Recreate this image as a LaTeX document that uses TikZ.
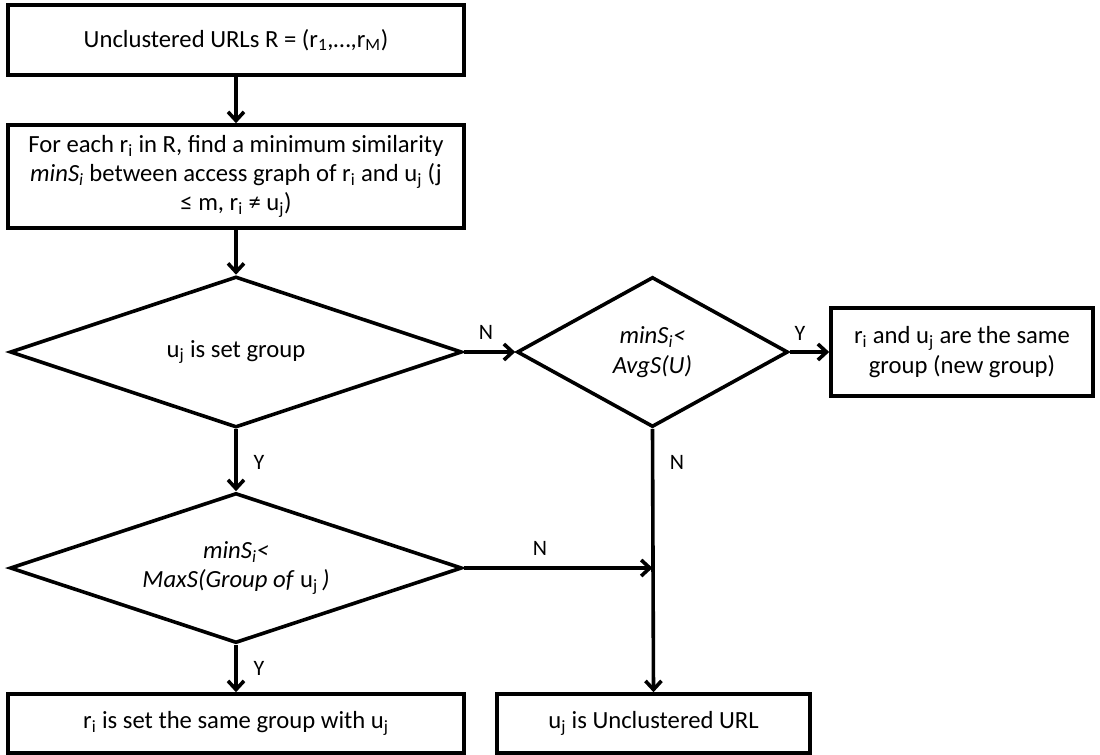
\documentclass[tikz,border=0pt]{standalone}
\usepackage{fontspec}
\setmainfont{Carlito}
\usetikzlibrary{shapes.geometric,arrows.meta}
\newcommand{\sbi}{\textsubscript{i}}
\newcommand{\sbj}{\textsubscript{j}}
\begin{document}
% one coordinate unit = 0.75pt, sizes below given in the same unit
\begin{tikzpicture}[x=0.75pt,y=-0.75pt,
  every node/.style={font=\fontsize{18.5}{22}\selectfont},
  procbox/.style={draw,line width=2.7pt,rectangle,inner sep=2pt,align=center},
  decision/.style={draw,line width=2.7pt,diamond,inner sep=0pt,align=center},
  flow/.style={line width=2.7pt,-{Straight Barb[length=6.5pt,width=12pt]}},
  lbl/.style={font=\fontsize{16.5}{19}\selectfont,inner sep=0pt},
  w/.style={minimum width=0.75*#1 pt},
  h/.style={minimum height=0.75*#1 pt}]
\useasboundingbox (0,0) rectangle (1100,754);

% process boxes
\node[procbox,w=456,h=70] (start) at (236,40)
  {Unclustered URLs R = (r\textsubscript{1},…,r\textsubscript{M})};
\node[procbox,w=456,h=103] (find) at (236,176.5)
  {For each r\sbi{} in R, find a minimum similarity\\
   \textit{minS\textsubscript{i}} between access graph of r\sbi{} and u\sbj{} (j\\
   ≤ m, r\sbi{} ≠ u\sbj{})};

% decisions
\node[decision,aspect=3,w=452,h=151] (isset) at (236,352)
  {u\sbj{} is set group};
\node[decision,aspect=1.8,w=271,h=150] (avg) at (652.5,352)
  {\textit{minS\textsubscript{i}<}\\ \textit{AvgS(U)}};
\node[decision,aspect=3,w=452,h=150] (max) at (236,568)
  {\textit{minS\textsubscript{i}<}\\ \textit{MaxS(Group of} u\sbj{}\,\textit{)}};

% outcomes
\node[procbox,w=262,h=88] (newgrp) at (962,352)
  {r\sbi{} and u\sbj{} are the same\\ group (new group)};
\node[procbox,w=456,h=59] (same) at (236,723.5)
  {r\sbi{} is set the same group with u\sbj};
\node[procbox,w=313,h=59] (uncl) at (653.5,723.5)
  {u\sbj{} is Unclustered URL};

% junction on the vertical N-line
\coordinate (join) at (652.5,568);

% connectors
\draw[flow] (start.south) -- (find.north);
\draw[flow] (find.south) -- (isset.north);
\draw[flow] (isset.east) -- (avg.west);
\draw[flow] (avg.east) -- (newgrp.west);
\draw[flow] (isset.south) -- (max.north);
\draw[flow] (max.south) -- (same.north);
\draw[flow] (avg.south) -- (uncl.north);
\draw[flow] (max.east) -- (join);

% branch labels
\node[lbl] (n1) at (486,332) {N};
\node[lbl] (y1) at (800,333) {Y};
\node[lbl] (y2) at (259,462) {Y};
\node[lbl] (n2) at (677,462) {N};
\node[lbl] (n3) at (540,548) {N};
\node[lbl] (y3) at (259,668) {Y};
\end{tikzpicture}
\end{document}
